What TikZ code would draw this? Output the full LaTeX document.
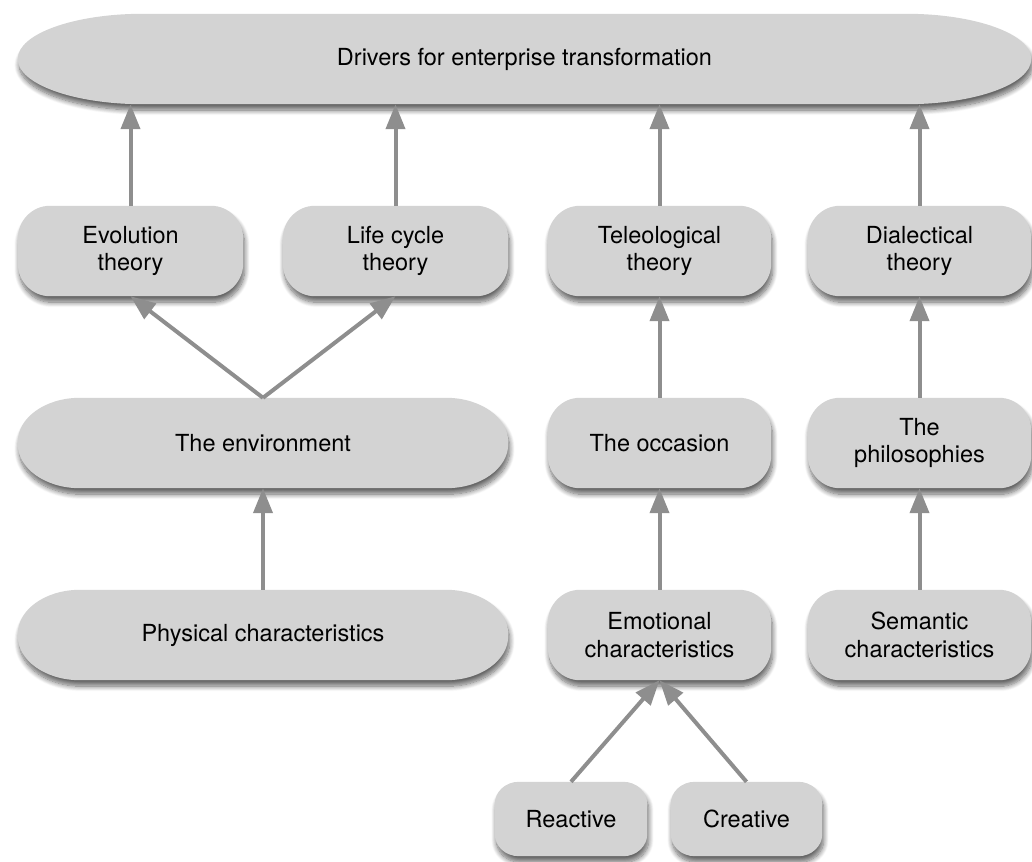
\documentclass[tikz,border=0pt]{standalone}
\usepackage{fontspec}
\setmainfont{TeX Gyre Heros}
\usetikzlibrary{arrows.meta,calc,backgrounds,shadows.blur}

\definecolor{boxgray}{RGB}{211,211,211}
\definecolor{linkgray}{RGB}{142,142,142}

\tikzset{
  driver/.style={align=center, inner sep=0pt, font=\fontsize{23.5}{27.5}\selectfont},
  link/.style={draw=linkgray, line width=4pt, -{Triangle[length=25pt,width=19pt]}},
  blobfill/.style={fill=boxgray, blur shadow={shadow xshift=1.5pt, shadow yshift=-6pt,
      shadow blur steps=10, shadow blur radius=5pt, shadow opacity=60}}
}

% soft box behind a node: #1 node, #2 corner x radius, #3 corner y radius
\newcommand\blob[3]{%
  \fill[blobfill] let \p1=(#1.north west), \p2=(#1.south east) in
    (\x1+#2,\y1) -- (\x2-#2,\y1) arc[start angle=90,end angle=0,x radius=#2,y radius=#3]
    -- (\x2,\y2+#3) arc[start angle=0,end angle=-90,x radius=#2,y radius=#3]
    -- (\x1+#2,\y2) arc[start angle=270,end angle=180,x radius=#2,y radius=#3]
    -- (\x1,\y1-#3) arc[start angle=180,end angle=90,x radius=#2,y radius=#3] -- cycle;
}

\begin{document}
\begin{tikzpicture}[x=1pt,y=-1pt]
  \useasboundingbox (0,0) rectangle (1032,861);

  % top
  \node[driver, minimum width=1013pt, minimum height=90pt] (top) at (524.5,59) {Drivers for enterprise transformation};

  % theories
  \node[driver, minimum width=225pt, minimum height=90pt] (evo) at (130.5,251) {Evolution\\theory};
  \node[driver, minimum width=225pt, minimum height=90pt] (life) at (395.5,251) {Life cycle\\theory};
  \node[driver, minimum width=223pt, minimum height=90pt] (tele) at (659.5,251) {Teleological\\theory};
  \node[driver, minimum width=223pt, minimum height=90pt] (dial) at (919.5,251) {Dialectical\\theory};

  % contexts
  \node[driver, minimum width=490pt, minimum height=90pt] (env) at (263,443) {The environment};
  \node[driver, minimum width=223pt, minimum height=90pt] (occ) at (659.5,443) {The occasion};
  \node[driver, minimum width=223pt, minimum height=90pt] (phil) at (919.5,443) {The\\philosophies};

  % characteristics
  \node[driver, minimum width=490pt, minimum height=90pt] (phys) at (263,635) {Physical characteristics};
  \node[driver, minimum width=223pt, minimum height=90pt] (emo) at (659.5,635) {Emotional\\characteristics};
  \node[driver, minimum width=223pt, minimum height=90pt] (sem) at (919.5,635) {Semantic\\characteristics};

  % kinds of emotion
  \node[driver, minimum width=152pt, minimum height=74pt] (reac) at (571,819) {Reactive};
  \node[driver, minimum width=151pt, minimum height=74pt] (crea) at (746.5,819) {Creative};

  \begin{scope}[on background layer]
    \blob{top}{125pt}{45pt}
    \foreach \b in {evo,life,tele,dial,occ,phil,emo,sem} {\blob{\b}{32pt}{33pt}}
    \blob{env}{62pt}{44pt}
    \blob{phys}{62pt}{44pt}
    \blob{reac}{24pt}{22pt}
    \blob{crea}{24pt}{22pt}
  \end{scope}

  \foreach \b in {evo,life,tele,dial}
    \draw[link] (\b.north) -- (\b.north |- top.south);
  \draw[link] (env.north) -- (evo.south);
  \draw[link] (env.north) -- (life.south);
  \draw[link] (occ) -- (tele);
  \draw[link] (phil) -- (dial);
  \draw[link] (phys) -- (env);
  \draw[link] (emo) -- (occ);
  \draw[link] (sem) -- (phil);
  \draw[link] (reac.north) -- (emo.south);
  \draw[link] (crea.north) -- (emo.south);
\end{tikzpicture}
\end{document}
